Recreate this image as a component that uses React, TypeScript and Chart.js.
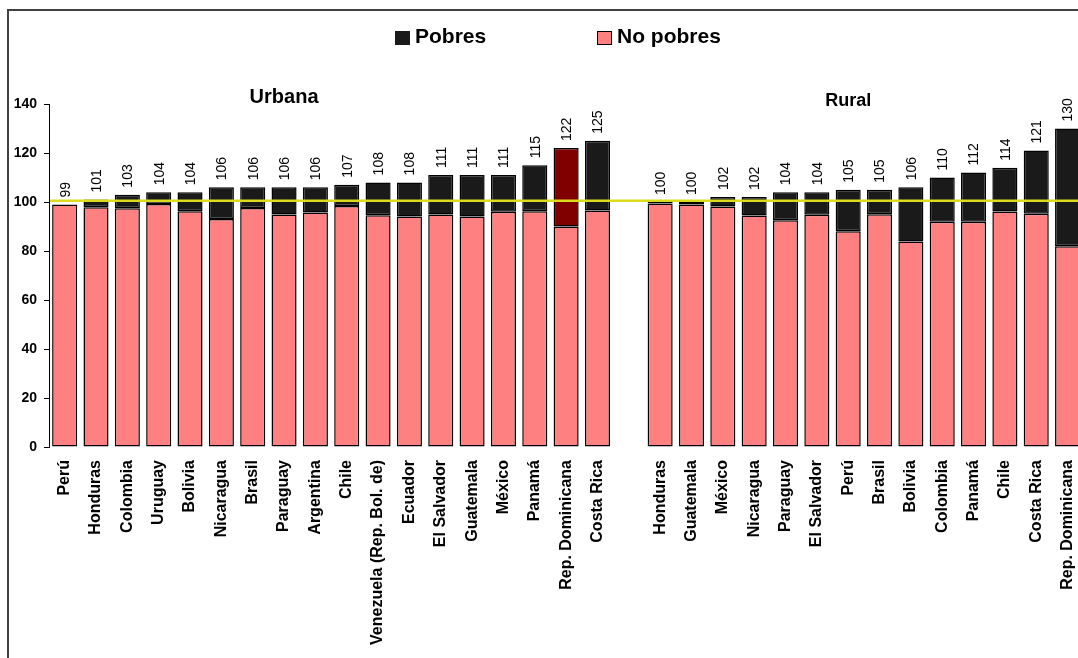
import { useEffect, useRef } from 'react';
import { Chart, registerables } from 'chart.js';

Chart.register(...registerables);

const urbanCountries = [
  'Perú', 'Honduras', 'Colombia', 'Uruguay', 'Bolivia', 'Nicaragua', 'Brasil', 'Paraguay',
  'Argentina', 'Chile', 'Venezuela (Rep. Bol. de)', 'Ecuador', 'El Salvador', 'Guatemala',
  'México', 'Panamá', 'Rep. Dominicana', 'Costa Rica',
];
const urbanTotals = [99, 101, 103, 104, 104, 106, 106, 106, 106, 107, 108, 108, 111, 111, 111, 115, 122, 125];
const urbanNoPobres = [99, 97.9, 97.5, 99.2, 96.2, 93.1, 97.6, 94.9, 95.7, 98.4, 94.6, 94.1, 94.9, 94.1, 96, 96.2, 90, 96.5];

const ruralCountries = [
  'Honduras', 'Guatemala', 'México', 'Nicaragua', 'Paraguay', 'El Salvador', 'Perú', 'Brasil',
  'Bolivia', 'Colombia', 'Panamá', 'Chile', 'Costa Rica', 'Rep. Dominicana',
];
const ruralTotals = [100, 100, 102, 102, 104, 104, 105, 105, 106, 110, 112, 114, 121, 130];
const ruralNoPobres = [99.4, 99, 98.2, 94.5, 92.6, 94.8, 88.1, 95, 83.9, 91.9, 91.9, 96.1, 95.2, 81.9];

const seriesNames = ['Pobres', 'No pobres'];
const groupTitles = ['Urbana', 'Rural'];
const REFERENCE_LEVEL = 100.5;
const Y_MIN = 0;
const Y_MAX = 140;
const Y_STEP = 20;
const highlightedUrban = 'Rep. Dominicana';

const labels = [...urbanCountries, '', ...ruralCountries];
const totals: (number | null)[] = [...urbanTotals, null, ...ruralTotals];
const noPobres: (number | null)[] = [...urbanNoPobres, null, ...ruralNoPobres];
const pobres = totals.map((t, i) => (t == null ? null : +(t - (noPobres[i] as number)).toFixed(2)));
const pobresColors = labels.map((l, i) =>
  i < urbanCountries.length && l === highlightedUrban ? '#800000' : '#1a1a1a'
);

const FONT = "'Liberation Sans', Arial, sans-serif";
const PINK = '#FF8080';

export default function App() {
  const ref = useRef<HTMLCanvasElement | null>(null);

  useEffect(() => {
    if (!ref.current) return;

    const overlay = {
      id: 'overlay',
      afterDatasetsDraw(chart: any) {
        const ctx = chart.ctx;
        const x = chart.scales.x;
        const y = chart.scales.y;
        const area = chart.chartArea;
        // reference line
        const ly = y.getPixelForValue(REFERENCE_LEVEL);
        ctx.save();
        ctx.strokeStyle = '#DCDC1E';
        ctx.lineWidth = 2.5;
        ctx.beginPath();
        ctx.moveTo(area.left + 1, ly);
        ctx.lineTo(chart.width, ly);
        ctx.stroke();
        ctx.restore();

        // value labels
        const meta = chart.getDatasetMeta(1);
        ctx.save();
        ctx.fillStyle = '#000';
        ctx.font = `14px ${FONT}`;
        ctx.textAlign = 'left';
        ctx.textBaseline = 'middle';
        totals.forEach((t, i) => {
          if (t == null) return;
          const el = meta.data[i];
          const top = y.getPixelForValue(t);
          ctx.save();
          ctx.translate(el.x + 1, top - 7);
          ctx.rotate(-Math.PI / 2);
          ctx.fillText(String(t), 0, 0);
          ctx.restore();
        });
        ctx.restore();

        // group titles
        ctx.save();
        ctx.fillStyle = '#000';
        ctx.textAlign = 'center';
        ctx.textBaseline = 'middle';
        ctx.font = `bold 20px ${FONT}`;
        ctx.fillText(groupTitles[0], x.getPixelForValue(7), 97);
        ctx.font = `bold 18px ${FONT}`;
        ctx.fillText(groupTitles[1], x.getPixelForValue(25), 101);
        ctx.restore();

        // legend
        ctx.save();
        ctx.font = `bold 21px ${FONT}`;
        ctx.textBaseline = 'middle';
        ctx.textAlign = 'left';
        ctx.fillStyle = '#1a1a1a';
        ctx.fillRect(395, 31, 15, 14);
        ctx.fillStyle = '#000';
        ctx.fillText(seriesNames[0], 415, 37);
        ctx.fillStyle = PINK;
        ctx.fillRect(597.5, 31.5, 14, 13);
        ctx.strokeStyle = '#000';
        ctx.lineWidth = 1;
        ctx.strokeRect(597.5, 31.5, 14, 13);
        ctx.fillStyle = '#000';
        ctx.fillText(seriesNames[1], 617, 37);
        ctx.restore();
      },
    };

    const chart = new Chart(ref.current, {
      type: 'bar',
      data: {
        labels,
        datasets: [
          {
            label: seriesNames[1],
            data: noPobres,
            backgroundColor: PINK,
            borderColor: '#000',
            borderWidth: 1.5,
            borderSkipped: false,
            barPercentage: 0.8,
            categoryPercentage: 1,
          },
          {
            label: seriesNames[0],
            data: pobres,
            backgroundColor: pobresColors,
            borderColor: '#000',
            borderWidth: 1.5,
            borderSkipped: false,
            barPercentage: 0.8,
            categoryPercentage: 1,
          },
        ],
      },
      options: {
        responsive: false,
        animation: false,
        devicePixelRatio: 1,
        layout: { padding: { left: 0, right: 15, top: 104, bottom: 0 } },
        plugins: {
          legend: { display: false },
          tooltip: { enabled: false },
          title: { display: false },
        },
        scales: {
          x: {
            stacked: true,
            grid: { display: false, drawTicks: false },
            border: { display: false },
            ticks: {
              autoSkip: false,
              maxRotation: 90,
              minRotation: 90,
              padding: 13,
              color: '#000',
              font: { family: FONT, size: 16, weight: 'bold' },
            },
            afterFit(scale: any) {
              scale.height = 211;
            },
          },
          y: {
            stacked: true,
            min: Y_MIN,
            max: Y_MAX,
            ticks: {
              stepSize: Y_STEP,
              padding: 7,
              color: '#000',
              font: { family: FONT, size: 14, weight: 'bold' },
            },
            grid: {
              display: true,
              drawOnChartArea: false,
              drawTicks: true,
              tickLength: 5,
              color: '#000',
            },
            border: { display: true, color: '#000', width: 1 },
            afterFit(scale: any) {
              scale.width = 49;
            },
          },
        },
      },
      plugins: [overlay],
    });

    return () => chart.destroy();
  }, []);

  return (
    <div
      style={{
        position: 'absolute',
        left: 0,
        top: 0,
        width: 1078,
        height: 658,
        overflow: 'hidden',
        background: '#fff',
      }}
    >
      <div
        style={{
          position: 'absolute',
          left: 7,
          top: 9,
          width: 2000,
          height: 2000,
          border: '2px solid #404040',
          boxSizing: 'border-box',
        }}
      />
      <canvas
        ref={ref}
        width={1100}
        height={658}
        style={{ position: 'absolute', left: 0, top: 0, display: 'block' }}
      />
    </div>
  );
}
